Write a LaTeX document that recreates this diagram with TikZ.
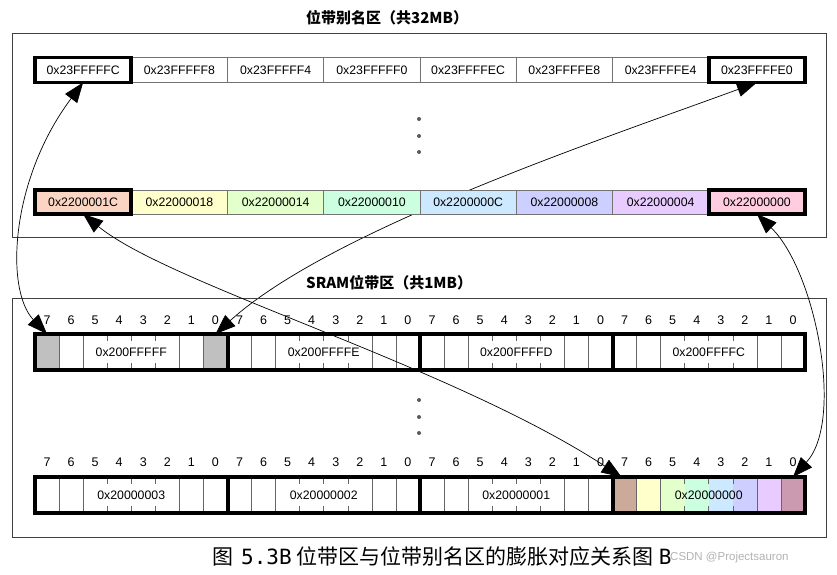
\documentclass[tikz,border=0pt]{standalone}
\usepackage{fontspec}
\setmainfont{Liberation Sans}
\newfontfamily\cjk{Noto Sans CJK SC}
\newfontfamily\monof{DejaVu Sans Mono}
\usetikzlibrary{arrows.meta}
\pgfdeclarelayer{back}
\pgfsetlayers{back,main}

% fills of the alias words and of the bits of byte 0x20000000
\definecolor{cA}{HTML}{FAD5C3}
\definecolor{cB}{HTML}{FFFFCC}
\definecolor{cC}{HTML}{E3FFCC}
\definecolor{cD}{HTML}{CCFFE0}
\definecolor{cE}{HTML}{CCE9FF}
\definecolor{cF}{HTML}{CCCFFF}
\definecolor{cG}{HTML}{E9CCFF}
\definecolor{cH}{HTML}{FFCCE0}
\definecolor{bA}{HTML}{CBAA9A}
\definecolor{bH}{HTML}{CC9AB0}
\definecolor{selgray}{HTML}{C0C0C0}
\definecolor{framec}{HTML}{404040}

\begin{document}
\begin{tikzpicture}[x=1pt,y=-1pt,
  wordcell/.style={draw=black!55, line width=0.6pt, fill=white, anchor=north west,
    minimum width=96.25pt, minimum height=25pt, inner sep=0pt, outer sep=0pt,
    font=\fontsize{12.3}{14}\selectfont},
  bitcell/.style={fill=white, anchor=north west, minimum width=24.0625pt,
    minimum height=36pt, inner sep=0pt, outer sep=0pt},
  bitnum/.style={font=\fontsize{12.5}{14}\selectfont, inner sep=0pt},
  bytelabel/.style={font=\fontsize{12.3}{14}\selectfont, inner sep=0pt},
  divl/.style={draw=black!60, line width=0.6pt},
  hotbox/.style={line width=3.6pt, draw=black},
  bytebox/.style={line width=4pt, draw=black},
  region/.style={draw=framec, line width=0.9pt},
  title/.style={font=\cjk\bfseries\fontsize{15}{18}\selectfont, anchor=west, inner sep=0pt},
  dot/.style={circle, fill=black!65, minimum size=4pt, inner sep=0pt},
  link/.style={line width=0.7pt,
    {Triangle[length=20pt,width=15pt]}-{Triangle[length=20pt,width=15pt]}},
]
\useasboundingbox (0,0) rectangle (837,574);

% ---- region frames and titles
\draw[region] (12,33) rectangle (826,237);
\draw[region] (12,298) rectangle (826,537);
\node[title] (ttl1) at (306,18) {位带别名区（共32MB）};
\node[title] (ttl2) at (306,283) {SRAM位带区（共1MB）};

% ---- alias words, top row
\foreach \i/\txt in {0/0x23FFFFFC,1/0x23FFFFF8,2/0x23FFFFF4,3/0x23FFFFF0,
                     4/0x23FFFFEC,5/0x23FFFFE8,6/0x23FFFFE4,7/0x23FFFFE0}
  \node[wordcell] (t\i) at ({35+96.25*\i},57.5) {\txt};

% ---- alias words, lower row
\foreach \i/\txt/\c in {0/0x2200001C/cA,1/0x22000018/cB,2/0x22000014/cC,3/0x22000010/cD,
                        4/0x2200000C/cE,5/0x22000008/cF,6/0x22000004/cG,7/0x22000000/cH}
  \node[wordcell, fill=\c, minimum height=24pt] (a\i) at ({35+96.25*\i},190) {\txt};

\foreach \n in {t0,t7,a0,a7}
  \draw[hotbox] (\n.north west) rectangle (\n.south east);

% ---- ellipsis dots
\node[dot] (d1) at (419,119) {};
\node[dot] (d2) at (419,136) {};
\node[dot] (d3) at (419,152) {};
\node[dot] (d4) at (419,400) {};
\node[dot] (d5) at (419,417) {};
\node[dot] (d6) at (419,433) {};

% ---- bit-band bytes: cells
\foreach \k in {0,...,3}
  \foreach \b in {0,...,7} {
    \node[bitcell] (hi-\k-\b) at ({35+192.5*\k+24.0625*(7-\b)},334) {};
    \node[bitcell] (lo-\k-\b) at ({35+192.5*\k+24.0625*(7-\b)},477) {};
    \node[bitnum] (nh-\k-\b) at ([yshift=14pt]hi-\k-\b.north) {\b};
    \node[bitnum] (nl-\k-\b) at ([yshift=15pt]lo-\k-\b.north) {\b};
  }

% selected bits
\fill[selgray] (hi-0-7.north west) rectangle (hi-0-7.south east);
\fill[selgray] (hi-0-0.north west) rectangle (hi-0-0.south east);
\foreach \b/\c in {7/bA,6/cB,5/cC,4/cD,3/cE,2/cF,1/cG,0/bH}
  \fill[\c] (lo-3-\b.north west) rectangle (lo-3-\b.south east);

% bit dividers: full lines at the sides, short ticks under the label
\foreach \r in {hi,lo}
  \foreach \k in {0,...,3} {
    \foreach \b in {7,6,2,1}
      \draw[divl] (\r-\k-\b.north east) -- (\r-\k-\b.south east);
    \foreach \b in {5,4,3} {
      \draw[divl] (\r-\k-\b.north east) -- ++(0,7);
      \draw[divl] (\r-\k-\b.south east) -- ++(0,-7);
    }
  }

% byte addresses
\foreach \k/\txt in {0/0x200FFFFF,1/0x200FFFFE,2/0x200FFFFD,3/0x200FFFFC}
  \node[bytelabel] (hl-\k) at (hi-\k-4.east) {\txt};
\foreach \k/\txt in {0/0x20000003,1/0x20000002,2/0x20000001,3/0x20000000}
  \node[bytelabel] (ll-\k) at (lo-\k-4.east) {\txt};

% byte outlines
\foreach \r in {hi,lo}
  \foreach \k in {0,...,3}
    \draw[bytebox] (\r-\k-7.north west) rectangle (\r-\k-0.south east);

% ---- mappings between alias words and bits
\begin{pgfonlayer}{back}
  \draw[link] (t7.south) .. controls (600,140) and (330,230) .. (hi-0-0.north);
\end{pgfonlayer}
\draw[link] (t0.south) .. controls (10,180) and (5,290) .. (hi-0-7.north);
\draw[link] (a0.south) .. controls (170,285) and (450,365) .. ([xshift=-3pt]lo-3-7.north);
\draw[link] (a7.south) .. controls (815,270) and (845,420) .. (lo-3-0.north);

% ---- caption
\node[anchor=west, inner sep=0pt] (cap) at (212,556)
  {\fontsize{21}{24}\selectfont{\cjk 图}\hspace{8pt}{\monof 5.3B}\hspace{5pt}{\cjk 位带区与位带别名区的膨胀对应关系图}\hspace{5pt}{\monof B}};
\node[anchor=west, inner sep=0pt, text=black!30] (mark) at (670,558)
  {\fontsize{11.5}{13}\selectfont CSDN @Projectsauron};
\end{tikzpicture}
\end{document}
